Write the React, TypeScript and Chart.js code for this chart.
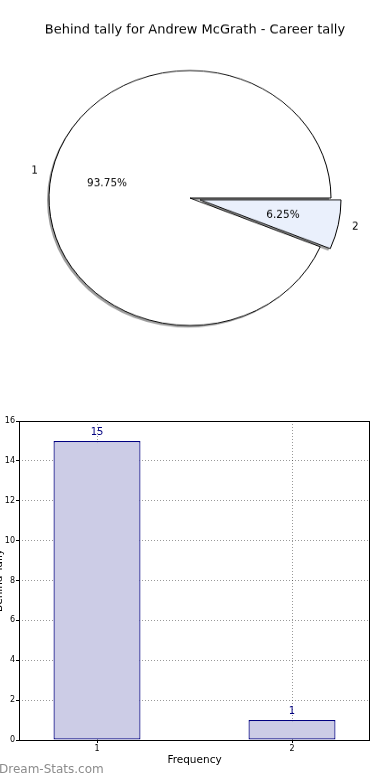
import React, { useEffect, useRef } from "react";
import { Chart, registerables } from "chart.js";

Chart.register(...registerables);

// ---- data ----
const TITLE = "Behind tally for Andrew McGrath - Career tally";
const categories = [1, 2];
const tallies = [15, 1];
const pieColors = ["#ffffff", "#eaf0fc"];
const explodePx = [0, 10.2];
const yTicksMax = 16;
const yTickStep = 2;
const xLabel = "Frequency";
const yLabel = "Behind Tally";
const watermark = "Dream-Stats.com";

const FONT = '"DejaVu Sans", Verdana, sans-serif';
const PIE_W = 390;
const PIE_H = 438;
const PIE_CSS_H = 396;
const SQ = PIE_CSS_H / PIE_H;

const total = tallies.reduce((a, b) => a + b, 0);
const pctLabels = tallies.map((v) => ((v / total) * 100).toFixed(2) + "%");

function arcCenter(arc: any, i: number) {
  const mid = (arc.startAngle + arc.endAngle) / 2;
  const d = explodePx[i] || 0;
  return { mid, cx: arc.x + d * Math.cos(mid), cy: arc.y + d * Math.sin(mid) };
}

const piePlugin = {
  id: "piePlugin",
  beforeDatasetsDraw(chart: any) {
    const ctx = chart.ctx;
    const arcs = chart.getDatasetMeta(0).data;
    ctx.save();
    ctx.fillStyle = "rgba(0,0,0,0.38)";
    arcs.forEach((arc: any, i: number) => {
      const { cx, cy } = arcCenter(arc, i);
      const sx = cx - 2;
      const sy = cy + 2 / SQ;
      ctx.beginPath();
      ctx.moveTo(sx, sy);
      ctx.arc(sx, sy, arc.outerRadius, arc.startAngle, arc.endAngle);
      ctx.closePath();
      ctx.fill();
    });
    ctx.restore();
    arcs.forEach((arc: any, i: number) => {
      const { cx, cy } = arcCenter(arc, i);
      arc.$origX = arc.x;
      arc.$origY = arc.y;
      arc.x = cx;
      arc.y = cy;
    });
  },
  afterDatasetsDraw(chart: any) {
    const arcs = chart.getDatasetMeta(0).data;
    arcs.forEach((arc: any) => {
      if (arc.$origX !== undefined) {
        arc.x = arc.$origX;
        arc.y = arc.$origY;
      }
    });
  },
  afterDraw(chart: any) {
    const ctx = chart.ctx;
    const arcs = chart.getDatasetMeta(0).data;
    const txt = (t: string, x: number, y: number, align: CanvasTextAlign, font: string) => {
      ctx.save();
      ctx.translate(x, y);
      ctx.scale(1, 1 / SQ);
      ctx.font = font;
      ctx.textAlign = align;
      ctx.textBaseline = "middle";
      ctx.fillStyle = "#000";
      ctx.fillText(t, 0, 0);
      ctx.restore();
    };
    txt(TITLE, chart.width / 2, 30 / SQ, "center", `13px ${FONT}`);
    arcs.forEach((arc: any, i: number) => {
      const { mid, cx, cy } = arcCenter(arc, i);
      const r = arc.outerRadius;
      const c = Math.cos(mid);
      const s = Math.sin(mid);
      txt(String(categories[i]), cx + 1.1 * r * c, cy + 1.1 * r * s, c < 0 ? "right" : "left", `10.5px ${FONT}`);
      txt(pctLabels[i], cx + 0.6 * r * c, cy + 0.6 * r * s, "center", `10.5px ${FONT}`);
    });
  },
};

const barPlugin = {
  id: "barPlugin",
  afterDatasetsDraw(chart: any) {
    const ctx = chart.ctx;
    const bars = chart.getDatasetMeta(0).data;
    ctx.save();
    ctx.font = `10px ${FONT}`;
    ctx.fillStyle = "#000080";
    ctx.textAlign = "center";
    ctx.textBaseline = "middle";
    bars.forEach((bar: any, i: number) => {
      ctx.fillText(String(tallies[i]), bar.x, bar.y - 9);
    });
    ctx.restore();
  },
  afterDraw(chart: any) {
    const ctx = chart.ctx;
    const a = chart.chartArea;
    ctx.save();
    ctx.strokeStyle = "#000";
    ctx.lineWidth = 1;
    ctx.strokeRect(Math.round(a.left) + 0.5, Math.round(a.top) + 0.5, Math.round(a.right - a.left) - 1, Math.round(a.bottom - a.top));
    ctx.font = `12px ${FONT}`;
    ctx.fillStyle = "#8c8c8c";
    ctx.textAlign = "left";
    ctx.textBaseline = "middle";
    ctx.fillText(watermark, 11, chart.height - 10);
    ctx.restore();
  },
};

export default function App() {
  const pieRef = useRef<HTMLCanvasElement>(null);
  const barRef = useRef<HTMLCanvasElement>(null);

  useEffect(() => {
    const pie = new Chart(pieRef.current as HTMLCanvasElement, {
      type: "pie",
      data: {
        labels: categories.map(String),
        datasets: [
          {
            data: tallies,
            backgroundColor: pieColors,
            borderColor: "#000",
            borderWidth: 1,
          },
        ],
      },
      options: {
        responsive: false,
        animation: false,
        rotation: 90 + (360 * tallies[1]) / total,
        radius: 141,
        layout: { padding: { left: 0, right: 10, top: 0, bottom: 0 } },
        plugins: { legend: { display: false }, tooltip: { enabled: false }, title: { display: false } },
      },
      plugins: [piePlugin],
    } as any);

    const bar = new Chart(barRef.current as HTMLCanvasElement, {
      type: "bar",
      data: {
        datasets: [
          {
            data: categories.map((c, i) => ({ x: c, y: tallies[i] })),
            backgroundColor: "#ccccE6",
            borderColor: "#000080",
            borderWidth: 1.2,
            borderSkipped: false,
            inflateAmount: 0,
            barPercentage: 0.446,
            categoryPercentage: 1,
          },
        ],
      },
      options: {
        responsive: false,
        animation: false,
        layout: { padding: { left: 0, right: 10, top: 21, bottom: 0 } },
        plugins: { legend: { display: false }, tooltip: { enabled: false } },
        scales: {
          x: {
            type: "linear",
            min: 0.6,
            max: 2.4,
            offset: false,
            z: 1,
            afterBuildTicks: (scale: any) => {
              scale.ticks = categories.map((v) => ({ value: v }));
            },
            afterFit: (scale: any) => {
              scale.height = 40;
            },
            ticks: {
              callback: (v: any) => String(v),
              font: { family: FONT, size: 8 },
              color: "#000",
              padding: 1,
              maxRotation: 0,
            },
            grid: {
              offset: false,
              color: "rgba(0,0,0,0.4)",
              tickColor: "#000",
              tickLength: 3,
              lineWidth: 1,
            },
            border: { display: false, dash: [1, 2] },
            title: {
              display: true,
              text: xLabel,
              font: { family: FONT, size: 10.5 },
              color: "#000",
              padding: { top: 0, bottom: 13 },
            },
          },
          y: {
            min: 0,
            max: yTicksMax,
            afterFit: (scale: any) => {
              scale.width = 31;
            },
            ticks: {
              stepSize: yTickStep,
              font: { family: FONT, size: 8 },
              color: "#000",
              padding: 1,
            },
            grid: {
              color: "rgba(0,0,0,0.4)",
              tickColor: "#000",
              tickLength: 3,
              lineWidth: 1,
            },
            border: { display: false, dash: [1, 2] },
            title: {
              display: true,
              text: yLabel,
              font: { family: FONT, size: 10.5 },
              color: "#000",
              padding: { top: 4.7, bottom: 0 },
            },
          },
        },
      },
      plugins: [barPlugin],
    } as any);

    return () => {
      pie.destroy();
      bar.destroy();
    };
  }, []);

  return (
    <div style={{ position: "fixed", left: 0, top: 0, width: 390, height: 780, overflow: "hidden", background: "#fff" }}>
      <canvas
        ref={pieRef}
        width={PIE_W}
        height={PIE_H}
        style={{ position: "absolute", left: 0, top: 0, width: PIE_W, height: PIE_CSS_H }}
      />
      <canvas
        ref={barRef}
        width={392}
        height={380}
        style={{ position: "absolute", left: -12, top: 400, width: 392, height: 380 }}
      />
    </div>
  );
}
